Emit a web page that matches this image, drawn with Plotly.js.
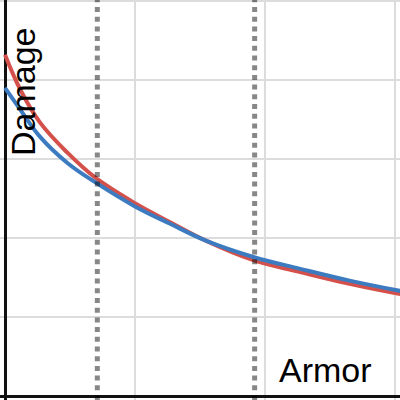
<!DOCTYPE html>
<html>
<head>
<meta charset="utf-8">
<script src="https://cdn.plot.ly/plotly-3.0.1.min.js"></script>
<style>html,body{margin:0;padding:0;background:#fff}#chart{width:400px;height:400px}</style>
</head>
<body>
<div id="chart"></div>
<script>
// Armor values (x) sampled along the curves
const armor = [0, 0.12, 0.27, 0.48, 0.69, 1.0, 1.27, 1.54, 1.91, 2.27, 2.65, 3.04];
// Damage for the red curve
const damageRed = [4.32, 3.87, 3.46, 3.08, 2.77, 2.44, 2.20, 1.97, 1.72, 1.57, 1.42, 1.29];
// Damage for the blue curve
const damageBlue = [3.90, 3.62, 3.28, 2.95, 2.71, 2.40, 2.18, 1.97, 1.76, 1.61, 1.46, 1.33];
// Vertical dotted marker positions (armor)
const markers = [0.71, 1.92];
const xLabel = "Armor";
const yLabel = "Damage";

const traces = [
  {x: armor, y: damageRed, mode: "lines", line: {color: "#d4504b", width: 4, shape: "spline", smoothing: 1.1}, hoverinfo: "skip"},
  {x: armor, y: damageBlue, mode: "lines", line: {color: "#3d7bc1", width: 4, shape: "spline", smoothing: 1.1}, hoverinfo: "skip"}
];

const shapes = markers.map(m => ({
  type: "line", xref: "x", yref: "paper", x0: m, x1: m, y0: 0, y1: 1,
  line: {color: "rgba(0,0,0,0.47)", width: 5, dash: "5px,4.7px"}, layer: "above"
}));

const layout = {
  width: 400, height: 400,
  margin: {l: 0, r: 0, t: 0, b: 0},
  paper_bgcolor: "#fff", plot_bgcolor: "#fff",
  showlegend: false,
  xaxis: {range: [-0.0385, 3.038], dtick: 1, showticklabels: false, ticks: "",
          showgrid: true, gridcolor: "#dcdcdc", gridwidth: 2,
          zeroline: true, zerolinecolor: "#111", zerolinewidth: 3, showline: false},
  yaxis: {range: [-0.0506, 5.013], dtick: 1, showticklabels: false, ticks: "",
          showgrid: true, gridcolor: "#dcdcdc", gridwidth: 2,
          zeroline: true, zerolinecolor: "#111", zerolinewidth: 3, showline: false},
  shapes: shapes,
  annotations: [
    {text: xLabel, xref: "paper", yref: "paper", x: 277/400, y: 1 - 370/400,
     xanchor: "left", yanchor: "middle", showarrow: false,
     font: {family: "Liberation Sans, Arial, sans-serif", size: 34, color: "#000"}},
    {text: yLabel, xref: "paper", yref: "paper", x: 23/400, y: 1 - 92/400,
     xanchor: "center", yanchor: "middle", textangle: -90, showarrow: false,
     font: {family: "Liberation Sans, Arial, sans-serif", size: 34, color: "#000"}}
  ]
};

Plotly.newPlot("chart", traces, layout, {displayModeBar: false, staticPlot: true});
</script>
</body>
</html>
